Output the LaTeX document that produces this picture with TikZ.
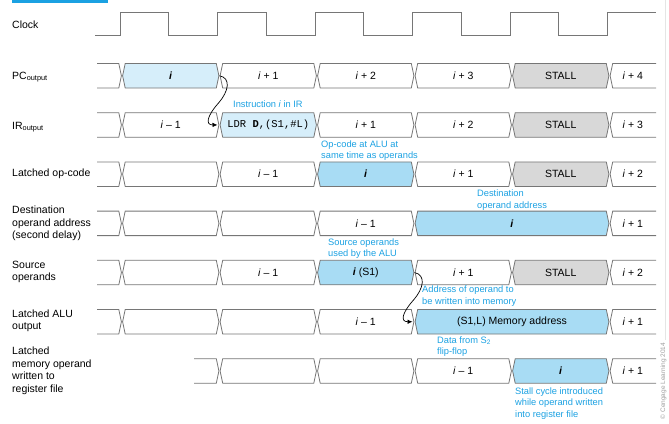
\documentclass[tikz,border=0pt]{standalone}
\usepackage{fontspec}
\setmainfont{Liberation Sans}
\setmonofont{Liberation Mono}
\usetikzlibrary{arrows.meta}
\definecolor{ann}{RGB}{27,161,226}
\definecolor{lblue}{RGB}{214,238,250}
\definecolor{mblue}{RGB}{168,220,244}
\definecolor{stallgray}{RGB}{216,216,216}
\definecolor{edgec}{RGB}{118,118,118}
\newcommand\bsgap{0.6}
\newcommand\bsdep{2.6}
\newcommand\bsh{24.5}
\newcommand\bsm{12.25}
% #1 name, #2 top, #3 x0, #4 x1, #5 fill style, #6 text
\newcommand\busseg[6]{%
  \path[bus,#5] ({#3+\bsgap},{#2+\bsm}) -- ({#3+\bsgap+\bsdep},#2) -- ({#4-\bsgap-\bsdep},#2)
    -- ({#4-\bsgap},{#2+\bsm}) -- ({#4-\bsgap-\bsdep},{#2+\bsh}) -- ({#3+\bsgap+\bsdep},{#2+\bsh}) -- cycle;
  \node[segtxt] (#1) at ({(#3+#4)/2},{#2+\bsm}) {#6};}
% #1 top, #2 start x, #3 x1
\newcommand\busstart[3]{%
  \draw[busline] (#2,#1) -- ({#3-\bsgap-\bsdep},#1) -- ({#3-\bsgap},{#1+\bsm})
    -- ({#3-\bsgap-\bsdep},{#1+\bsh}) -- (#2,{#1+\bsh});}
% #1 name, #2 top, #3 x0, #4 text
\newcommand\busend[4]{%
  \draw[busline] (656,#2) -- ({#3+\bsgap+\bsdep},#2) -- ({#3+\bsgap},{#2+\bsm})
    -- ({#3+\bsgap+\bsdep},{#2+\bsh}) -- (656,{#2+\bsh});
  \node[segtxt] (#1) at ({(#3+656)/2},{#2+\bsm}) {#4};}
\newcommand\ii{\textit{i}}
\newcommand\bi{\textbf{\textit{i}}}
\tikzset{
  bus/.style={draw=edgec, line width=0.8pt, line join=miter},
  busline/.style={draw=edgec, line width=0.8pt},
  wfill/.style={fill=white},
  lbfill/.style={fill=lblue},
  mbfill/.style={fill=mblue},
  stfill/.style={fill=stallgray},
  segtxt/.style={font=\fontsize{10.5}{12}\selectfont, inner sep=0pt},
  lbl/.style={anchor=west, align=left, font=\fontsize{10.5}{12.5}\selectfont, inner sep=0pt},
  note/.style={anchor=west, align=left, text=ann, font=\fontsize{9.3}{11.5}\selectfont, inner sep=0pt},
  arr/.style={-{Latex[length=5pt,width=4.5pt]}, line width=0.7pt, black},
  clk/.style={draw=edgec, line width=0.8pt}
}
\begin{document}
\begin{tikzpicture}[x=1pt,y=-1pt]
\useasboundingbox (0,0) rectangle (669,423);
\fill[ann] (12,0) rectangle (108,2.5);
\draw[gray!20, line width=0.6pt] (665.5,0) -- (665.5,340);
\node[rotate=90, font=\fontsize{6.5}{7}\selectfont, text=gray!75, inner sep=0pt] (copy) at (663.5,381) {© Cengage Learning 2014};

% clock
\draw[clk] (95,35) -- (120,35) -- (120,12) -- (168.75,12) -- (168.75,35) -- (217.5,35) -- (217.5,12)
  -- (266.25,12) -- (266.25,35) -- (315,35) -- (315,12) -- (363.75,12) -- (363.75,35)
  -- (412.5,35) -- (412.5,12) -- (461.25,12) -- (461.25,35) -- (510,35) -- (510,12)
  -- (558.75,12) -- (558.75,35) -- (607.5,35) -- (607.5,12) -- (656,12);

% labels
\node[lbl] (lclk) at (12,25) {Clock};
\node[lbl] (lpc) at (12,77) {PC\textsubscript{output}};
\node[lbl] (lir) at (12,127) {IR\textsubscript{output}};
\node[lbl] (lop) at (12,173.5) {Latched op-code};
\node[lbl] (ldst) at (12,223.5) {Destination\\operand address\\(second delay)};
\node[lbl] (lsrc) at (12,272) {Source\\operands};
\node[lbl] (lalu) at (12,321) {Latched ALU\\output};
\node[lbl] (lmem) at (12,371) {Latched\\memory operand\\written to\\register file};

% PC row
\busstart{63.5}{97}{122}
\busseg{pc1}{63.5}{122}{219.5}{lbfill}{\bi}
\busseg{pc2}{63.5}{219.5}{317}{wfill}{\ii{} + 1}
\busseg{pc3}{63.5}{317}{414.5}{wfill}{\ii{} + 2}
\busseg{pc4}{63.5}{414.5}{512}{wfill}{\ii{} + 3}
\busseg{pc5}{63.5}{512}{609.5}{stfill}{STALL}
\busend{pc6}{63.5}{609.5}{\ii{} + 4}

% IR row
\busstart{112.7}{97}{122}
\busseg{ir1}{112.7}{122}{219.5}{wfill}{\ii{} – 1}
\busseg{ir2}{112.7}{219.5}{317}{lbfill}{\texttt{LDR \textbf{D},(S1,\#L)}}
\busseg{ir3}{112.7}{317}{414.5}{wfill}{\ii{} + 1}
\busseg{ir4}{112.7}{414.5}{512}{wfill}{\ii{} + 2}
\busseg{ir5}{112.7}{512}{609.5}{stfill}{STALL}
\busend{ir6}{112.7}{609.5}{\ii{} + 3}

% Latched op-code
\busstart{161.9}{97}{122}
\busseg{op1}{161.9}{122}{219.5}{wfill}{}
\busseg{op2}{161.9}{219.5}{317}{wfill}{\ii{} – 1}
\busseg{op3}{161.9}{317}{414.5}{mbfill}{\bi}
\busseg{op4}{161.9}{414.5}{512}{wfill}{\ii{} + 1}
\busseg{op5}{161.9}{512}{609.5}{stfill}{STALL}
\busend{op6}{161.9}{609.5}{\ii{} + 2}

% Destination
\busstart{211.1}{97}{122}
\busseg{ds1}{211.1}{122}{219.5}{wfill}{}
\busseg{ds2}{211.1}{219.5}{317}{wfill}{}
\busseg{ds3}{211.1}{317}{414.5}{wfill}{\ii{} – 1}
\busseg{ds4}{211.1}{414.5}{609.5}{mbfill}{\bi}
\busend{ds6}{211.1}{609.5}{\ii{} + 1}

% Source operands
\busstart{260.3}{97}{122}
\busseg{sr1}{260.3}{122}{219.5}{wfill}{}
\busseg{sr2}{260.3}{219.5}{317}{wfill}{\ii{} – 1}
\busseg{sr3}{260.3}{317}{414.5}{mbfill}{\bi{} (S1)}
\busseg{sr4}{260.3}{414.5}{512}{wfill}{\ii{} + 1}
\busseg{sr5}{260.3}{512}{609.5}{stfill}{STALL}
\busend{sr6}{260.3}{609.5}{\ii{} + 2}

% Latched ALU output
\busstart{309.5}{97}{122}
\busseg{al1}{309.5}{122}{219.5}{wfill}{}
\busseg{al2}{309.5}{219.5}{317}{wfill}{}
\busseg{al3}{309.5}{317}{414.5}{wfill}{\ii{} – 1}
\busseg{al4}{309.5}{414.5}{609.5}{mbfill}{(S1,L) Memory address}
\busend{al6}{309.5}{609.5}{\ii{} + 1}

% Latched memory operand
\busstart{358.7}{194}{219.5}
\busseg{mm2}{358.7}{219.5}{317}{wfill}{}
\busseg{mm3}{358.7}{317}{414.5}{wfill}{}
\busseg{mm4}{358.7}{414.5}{512}{wfill}{\ii{} – 1}
\busseg{mm5}{358.7}{512}{609.5}{mbfill}{\bi}
\busend{mm6}{358.7}{609.5}{\ii{} + 1}

% connectors
\coordinate (pcx) at (219.5,75.75);
\coordinate (irin) at (217.5,124.95);
\coordinate (srcx) at (414.5,272.55);
\coordinate (aluin) at (412.5,321.75);
\draw[arr] (pcx) .. controls (231,78) and (229,91) .. (218.5,103) .. controls (207,116) and (205,125) .. (irin);
\draw[arr] (srcx) .. controls (426,275) and (424,288) .. (413.5,300) .. controls (402,313) and (400,321.75) .. (aluin);

% annotations
\node[note] (n1) at (233,104) {Instruction \ii{} in IR};
\node[note] (n2) at (321,150.5) {Op-code at ALU at\\same time as operands};
\node[note] (n3) at (477,200) {Destination\\operand address};
\node[note] (n4) at (328,248.5) {Source operands\\used by the ALU};
\node[note] (n5) at (422,296) {Address of operand to\\be written into memory};
\node[note] (n6) at (437,346.5) {Data from S\textsubscript{2}\\flip-flop};
\node[note] (n7) at (515,403.5) {Stall cycle introduced\\while operand written\\into register file};
\end{tikzpicture}
\end{document}
